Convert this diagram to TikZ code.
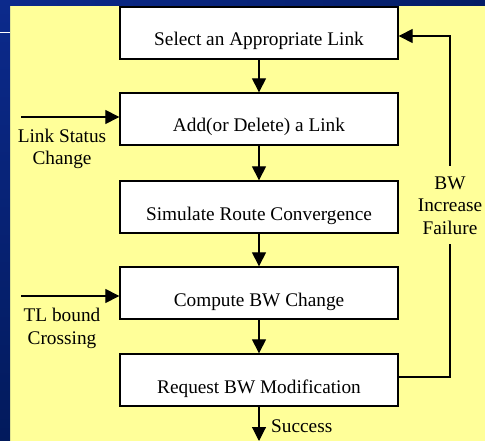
\documentclass[tikz,border=0pt]{standalone}
\usepackage{fontspec}
\setmainfont{Liberation Serif}
\usetikzlibrary{arrows.meta}
\definecolor{slideblue}{RGB}{12,42,140}
\definecolor{slidebluedark}{RGB}{2,26,92}
\definecolor{paleyellow}{RGB}{255,255,153}
\begin{document}
\begin{tikzpicture}[x=1pt,y=-1pt,
  stepbox/.style={draw=black, line width=1.3pt, fill=white,
    minimum width=278pt, inner xsep=0pt, inner ysep=0pt,
    text height=39pt, text depth=13pt,
    font=\fontsize{19.3}{22.5}\selectfont},
  flow/.style={line width=1.1pt, -{Triangle[length=14pt,width=14pt]}},
  lbl/.style={align=center, inner sep=0pt,
    font=\fontsize{19.3}{22.5}\selectfont}]
  \useasboundingbox (0,0) rectangle (485,441);
  % slide background
  \fill[paleyellow] (0,0) rectangle (485,441);
  \shade[left color=slideblue, right color=slidebluedark!80!slideblue] (0,0) rectangle (485,6);
  \shade[shading angle=0, top color=slideblue, bottom color=slidebluedark] (0,0) rectangle (10,441);
  \draw[white, line width=0.8pt] (0,32) -- (10,32);

  % process steps
  \node[stepbox] (b1) at (259,33)  {Select an Appropriate Link};
  \node[stepbox] (b2) at (259,119) {Add(or Delete) a Link};
  \node[stepbox] (b3) at (259,207) {Simulate Route Convergence};
  \node[stepbox] (b4) at (259,293) {Compute BW Change};
  \node[stepbox] (b5) at (259,380) {Request BW Modification};

  \draw[flow] (b1.south) -- (b2.north);
  \draw[flow] (b2.south) -- (b3.north);
  \draw[flow] (b3.south) -- (b4.north);
  \draw[flow] (b4.south) -- (b5.north);

  % external triggers (labels anchored on their last line)
  \coordinate (in1) at (21,117);
  \coordinate (in2) at (21,296);
  \draw[flow] (in1) -- (in1 -| b2.west);
  \draw[flow] (in2) -- (in2 -| b4.west);
  \node[lbl, anchor=base] (l1) at (62,165) {Link Status\\Change};
  \node[lbl, anchor=base] (l2) at (62,344) {TL bound\\Crossing};

  % feedback loop
  \coordinate (fbR) at (450,377);
  \coordinate (fbT) at (450,36);
  \draw[flow] (b5.east |- fbR) -- (fbR) -- (fbT) -- (fbT -| b1.east);
  \node[lbl, anchor=base, fill=paleyellow, inner ysep=10pt, inner xsep=2pt] (l3) at (450,234) {BW\\Increase\\Failure};

  % exit
  \coordinate (out) at (259,441);
  \draw[flow] (b5.south) -- (out);
  \node[lbl, anchor=base west] (l4) at (271,432) {Success};
\end{tikzpicture}
\end{document}
